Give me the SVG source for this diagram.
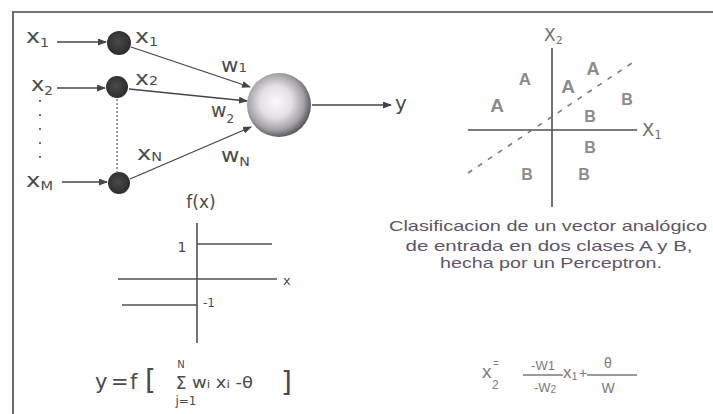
<svg xmlns="http://www.w3.org/2000/svg" width="713" height="414" viewBox="0 0 713 414">
<defs>
<style>
.lbl{font-family:"DejaVu Sans","Liberation Sans",sans-serif;fill:#4a4a4a}
.sub{font-size:12px}
.ln{stroke:#454545;stroke-width:1.3;fill:none}
.ax{stroke:#505050;stroke-width:1.6;fill:none}
.cls{font-family:"Liberation Sans",Arial,sans-serif;fill:#8c8c8c;text-anchor:middle;font-weight:bold}
.cap{font-family:"Liberation Sans",Arial,sans-serif;fill:#5e5566;font-size:15px;text-anchor:middle}
.fr{font-family:"Liberation Sans",Arial,sans-serif;fill:#7a7a7a}
</style>
<marker id="ah" markerWidth="9" markerHeight="7" refX="8" refY="3.5" orient="auto" markerUnits="userSpaceOnUse">
<path d="M0,0 L9,3.5 L0,7 z" fill="#454545"/>
</marker>
<radialGradient id="sph" cx="0.45" cy="0.45" r="0.55">
<stop offset="0" stop-color="#fbf9fc"/>
<stop offset="0.45" stop-color="#e4e0e6"/>
<stop offset="0.8" stop-color="#a3a0a6"/>
<stop offset="1" stop-color="#5f5b62"/>
</radialGradient>
<radialGradient id="nd" cx="0.45" cy="0.45" r="0.6">
<stop offset="0" stop-color="#4a4a4a"/>
<stop offset="1" stop-color="#2a2a2a"/>
</radialGradient>
</defs>
<rect width="713" height="414" fill="#ffffff"/>
<!-- frame -->
<line x1="12" y1="12" x2="713" y2="12" stroke="#7b6f84" stroke-width="2"/>
<line x1="13" y1="11" x2="13" y2="414" stroke="#6a6a6a" stroke-width="2"/>

<g id="connectors">
<line class="ln" x1="57" y1="42" x2="106" y2="42" marker-end="url(#ah)"/>
<line class="ln" x1="57" y1="88" x2="105" y2="88" marker-end="url(#ah)"/>
<line class="ln" x1="62" y1="182" x2="107" y2="182" marker-end="url(#ah)"/>
<line class="ln" x1="131" y1="47" x2="250" y2="87" marker-end="url(#ah)"/>
<line class="ln" x1="129" y1="89" x2="247" y2="101" marker-end="url(#ah)"/>
<line class="ln" x1="130" y1="179" x2="251" y2="127" marker-end="url(#ah)"/>
<line class="ln" x1="312" y1="105" x2="391" y2="105" marker-end="url(#ah)"/>
<line x1="117" y1="99" x2="117" y2="172" stroke="#6a6a6a" stroke-width="1.3" stroke-dasharray="2 2"/>
<line x1="40" y1="100" x2="40" y2="158" stroke="#6a6a6a" stroke-width="2" stroke-dasharray="2 12"/>
</g>

<g id="input-labels">
<text class="lbl" x="26" y="43" font-size="20" textLength="23" lengthAdjust="spacingAndGlyphs">x<tspan class="sub" dy="4">1</tspan></text>
<text class="lbl" x="31" y="91" font-size="20" textLength="22" lengthAdjust="spacingAndGlyphs">x<tspan class="sub" dy="4">2</tspan></text>
<text class="lbl" x="26" y="187" font-size="20" textLength="27" lengthAdjust="spacingAndGlyphs">x<tspan class="sub" dy="3">M</tspan></text>
</g>

<g id="node1">
<circle cx="119" cy="43" r="12" fill="url(#nd)"/>
<text class="lbl" x="135" y="43" font-size="20" textLength="23" lengthAdjust="spacingAndGlyphs">x<tspan class="sub" dy="3">1</tspan></text>
</g>
<g id="node2">
<circle cx="117" cy="87" r="11" fill="url(#nd)"/>
<text class="lbl" x="135" y="85" font-size="20" textLength="23" lengthAdjust="spacingAndGlyphs">x<tspan class="sub" dy="0">2</tspan></text>
</g>
<g id="node3">
<circle cx="119" cy="183" r="11" fill="url(#nd)"/>
<text class="lbl" x="137" y="160" font-size="20" textLength="25" lengthAdjust="spacingAndGlyphs">x<tspan class="sub" dy="1">N</tspan></text>
</g>

<g id="weights">
<text class="lbl" x="221" y="72" font-size="19" textLength="26" lengthAdjust="spacingAndGlyphs">w<tspan class="sub" dy="0">1</tspan></text>
<text class="lbl" x="211" y="117" font-size="19" textLength="23" lengthAdjust="spacingAndGlyphs">w<tspan class="sub" dy="6">2</tspan></text>
<text class="lbl" x="221" y="162" font-size="19" textLength="29" lengthAdjust="spacingAndGlyphs">w<tspan class="sub" dy="4">N</tspan></text>
</g>

<g id="neuron">
<circle cx="279" cy="105" r="32" fill="url(#sph)"/>
<text class="lbl" x="395" y="110" font-size="20">y</text>
</g>

<g id="step-function">
<text class="lbl" x="201" y="208" font-size="17" text-anchor="middle">f(x)</text>
<line class="ax" x1="197" y1="223" x2="197" y2="343"/>
<line class="ax" x1="118" y1="279" x2="277" y2="279"/>
<line class="ax" x1="197" y1="244" x2="272" y2="244"/>
<line class="ax" x1="122" y1="305" x2="197" y2="305"/>
<text class="lbl" x="182" y="252" font-size="14" text-anchor="middle">1</text>
<text class="lbl" x="203" y="307" font-size="12">-1</text>
<text class="lbl" x="283" y="285" font-size="13">x</text>
</g>

<g id="formula-y">
<text class="lbl" x="95" y="389" font-size="21">y</text>
<text class="lbl" x="111" y="389" font-size="21">=</text>
<text class="lbl" x="130" y="389" font-size="21">f</text>
<text class="lbl" x="145" y="390" font-size="28">[</text>
<text class="lbl" x="181" y="368" font-size="10" text-anchor="middle">N</text>
<text class="lbl" x="181" y="389" font-size="17" text-anchor="middle">Σ</text>
<text class="lbl" x="186" y="405" font-size="12" text-anchor="middle">j=1</text>
<text class="lbl" x="192" y="388" font-size="16" textLength="61" lengthAdjust="spacingAndGlyphs">w<tspan font-size="11">i</tspan> x<tspan font-size="11">i</tspan> -θ</text>
<text class="lbl" x="281" y="392" font-size="28">]</text>
</g>

<g id="classification">
<line class="ax" x1="552" y1="48" x2="552" y2="207"/>
<line class="ax" x1="468" y1="130" x2="637" y2="130"/>
<line x1="468" y1="173" x2="632" y2="63" stroke="#7a7a7a" stroke-width="1.6" stroke-dasharray="5 7"/>
<text class="lbl" x="544" y="41" font-size="17" style="fill:#707070">X<tspan font-size="11" dy="3">2</tspan></text>
<text class="lbl" x="642" y="136" font-size="18" style="fill:#707070">X<tspan font-size="12" dy="3">1</tspan></text>
<text class="cls" x="497" y="112" font-size="19">A</text>
<text class="cls" x="525" y="85" font-size="17">A</text>
<text class="cls" x="568" y="93" font-size="19">A</text>
<text class="cls" x="593" y="75" font-size="18">A</text>
<text class="cls" x="627" y="105" font-size="16">B</text>
<text class="cls" x="590" y="122" font-size="16">B</text>
<text class="cls" x="590" y="153" font-size="16">B</text>
<text class="cls" x="527" y="180" font-size="16">B</text>
<text class="cls" x="584" y="180" font-size="16">B</text>
</g>

<g id="caption">
<text class="cap" x="548" y="231" textLength="318" lengthAdjust="spacingAndGlyphs">Clasificacion de un vector analógico</text>
<text class="cap" x="549" y="251" textLength="287" lengthAdjust="spacingAndGlyphs">de entrada en dos clases A y B,</text>
<text class="cap" x="551" y="268" textLength="222" lengthAdjust="spacingAndGlyphs">hecha por un Perceptron.</text>
</g>

<g id="formula-x2">
<text class="fr" x="482" y="378" font-size="19">x</text>
<text class="fr" x="492" y="389" font-size="12">2</text>
<text class="fr" x="493" y="367" font-size="10">=</text>
<text class="fr" x="543" y="370" font-size="13" text-anchor="middle">-W1</text>
<line x1="523" y1="375" x2="563" y2="375" stroke="#7a7a7a" stroke-width="1.3"/>
<text class="fr" x="545" y="392" font-size="13" text-anchor="middle">-W<tspan font-size="10" dy="1">2</tspan></text>
<text class="fr" x="563" y="378" font-size="17">x<tspan font-size="11" dy="2">1</tspan></text>
<text class="fr" x="579" y="378" font-size="14">+</text>
<line x1="587" y1="375" x2="637" y2="375" stroke="#7a7a7a" stroke-width="1.3"/>
<text class="fr" x="608" y="368" font-size="14" text-anchor="middle">θ</text>
<text class="fr" x="608" y="393" font-size="14" text-anchor="middle">W</text>
</g>
</svg>
